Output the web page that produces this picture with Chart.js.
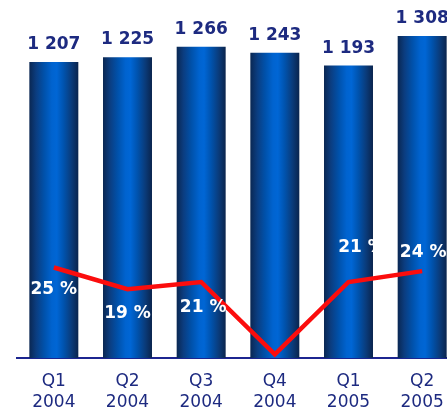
<!DOCTYPE html>
<html>
<head>
<meta charset="utf-8">
<script src="https://cdn.jsdelivr.net/npm/chart.js@4/dist/chart.umd.min.js"></script>
<style>
  html, body { margin: 0; padding: 0; background: #ffffff; overflow: hidden; }
  #wrap { position: relative; width: 476px; height: 411px; }
</style>
</head>
<body>
<div id="wrap"><canvas id="chart"></canvas></div>
<script>
// Quarterly figures
const quarters = [['Q1', '2004'], ['Q2', '2004'], ['Q3', '2004'], ['Q4', '2004'], ['Q1', '2005'], ['Q2', '2005']];
const revenue = [1207, 1225, 1266, 1243, 1193, 1308];
const marginPct = [25, 19, 21, 1, 21, 24];
const marginLabels = ['25 %', '19 %', '21 %', '', '21 %', '24 %'];

const NAVY = '#1d2a80';
const FONT = '"DejaVu Sans", Verdana, sans-serif';

// Shading across one bar, left edge to right edge
const SHADE = [
  [0.00, '#0a2752'],
  [0.14, '#0b3d80'],
  [0.30, '#0051aa'],
  [0.46, '#0063cf'],
  [0.56, '#0066d5'],
  [0.70, '#0053ae'],
  [0.86, '#0a3b7a'],
  [1.00, '#0a244d']
];

function formatThousands(v) {
  const s = String(v);
  return s.length > 3 ? s.slice(0, s.length - 3) + ' ' + s.slice(-3) : s;
}

// One horizontal gradient that repeats the cylinder shading under every bar
const barShading = {
  id: 'barShading',
  beforeDatasetsDraw(chart) {
    const meta = chart.getDatasetMeta(1);
    const W = chart.width;
    const g = chart.ctx.createLinearGradient(0, 0, W, 0);
    let last = -1;
    meta.data.forEach((el) => {
      const { x, width } = el.getProps(['x', 'width'], true);
      const left = x - width / 2;
      SHADE.forEach(([f, c]) => {
        let off = (left + f * width) / W;
        off = Math.min(1, Math.max(0, off));
        if (off <= last) off = Math.min(1, last + 1e-6);
        g.addColorStop(off, c);
        last = off;
      });
    });
    meta.data.forEach((el) => { el.options.backgroundColor = g; });
  }
};

// Value captions above the bars and margin captions near the line
const captions = {
  id: 'captions',
  afterDatasetsDraw(chart, args, opts) {
    const ctx = chart.ctx;
    ctx.save();
    ctx.textAlign = 'center';

    ctx.font = 'bold 17px ' + FONT;
    ctx.fillStyle = NAVY;
    ctx.textBaseline = 'alphabetic';
    chart.getDatasetMeta(1).data.forEach((el, i) => {
      ctx.fillText(formatThousands(revenue[i]), el.x, el.y - 13);
    });

    ctx.fillStyle = '#ffffff';
    ctx.textBaseline = 'middle';
    chart.getDatasetMeta(0).data.forEach((pt, i) => {
      if (!marginLabels[i]) return;
      ctx.fillText(marginLabels[i], pt.x + opts.dx[i], pt.y + opts.dy[i]);
    });
    ctx.restore();
  }
};

new Chart(document.getElementById('chart'), {
  data: {
    labels: quarters,
    datasets: [
      {
        type: 'line',
        data: marginPct,
        yAxisID: 'y2',
        borderColor: '#fb0d0d',
        borderWidth: 4.5,
        borderJoinStyle: 'miter',
        pointRadius: 0,
        tension: 0,
        order: 0
      },
      {
        type: 'bar',
        data: revenue,
        yAxisID: 'y',
        backgroundColor: '#0058b8',
        borderWidth: 0,
        barPercentage: 0.665,
        categoryPercentage: 1.0,
        order: 1
      }
    ]
  },
  options: {
    responsive: true,
    maintainAspectRatio: false,
    animation: false,
    layout: { padding: { top: 20, left: 17, right: 17, bottom: 0 } },
    plugins: {
      legend: { display: false },
      tooltip: { enabled: false },
      captions: {
        dx: [0, 0, 2, 0, 13, 1],
        dy: [22, 24, 26, 0, -34, -19]
      }
    },
    scales: {
      x: {
        z: 1,
        grid: { display: false, drawTicks: false },
        border: { display: true, color: '#1c2590', width: 2 },
        ticks: {
          color: NAVY,
          font: { family: FONT, size: 17, lineHeight: 1.25 },
          padding: 13,
          maxRotation: 0,
          autoSkip: false
        },
        afterFit(scale) { scale.height = 53; }
      },
      y: {
        display: false,
        min: 57,
        max: 1370
      },
      y2: {
        display: false,
        min: 0,
        max: 93.4
      }
    }
  },
  plugins: [barShading, captions]
});
</script>
</body>
</html>
